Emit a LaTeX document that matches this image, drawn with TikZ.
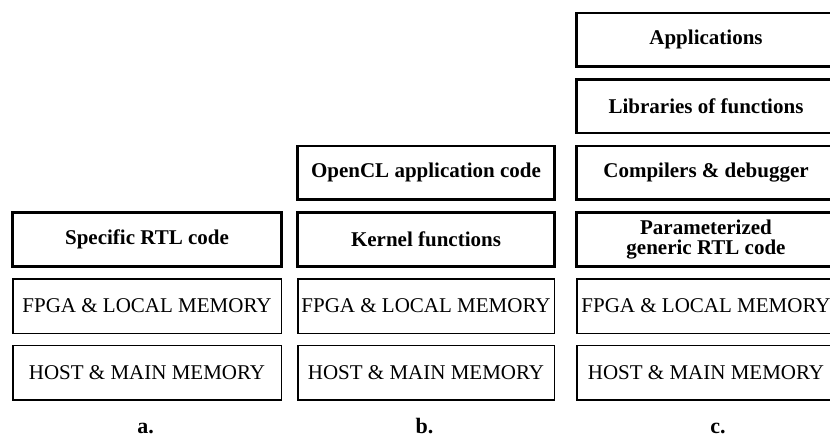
\documentclass[tikz,border=0pt]{standalone}
\usepackage{fontspec}
\setmainfont{Liberation Serif}
\usetikzlibrary{positioning}

\begin{document}
\begin{tikzpicture}
                [x=1pt,y=1pt,
                node distance=10.5pt,
                layer/.style={draw,line width=1.5pt,minimum height=54.5pt,inner sep=1pt,
                    font=\fontsize{21}{21}\selectfont},
                codelayer/.style={layer,line width=2.6pt,minimum height=53.5pt,align=center,
                    font=\fontsize{21}{19.5}\selectfont\bfseries},
                cola/.style={minimum width=268.5pt},
                colb/.style={minimum width=256.5pt},
                colc/.style={minimum width=258.5pt},
                caption/.style={font=\fontsize{22}{22}\selectfont\bfseries,inner sep=0pt,anchor=base}]
                \useasboundingbox (0,0) rectangle (830,437);
                \node[layer,cola] (hostA) at (147,64.5) {HOST \& MAIN MEMORY};
                \node[layer,cola,above=of hostA] (fpgaA) {FPGA \& LOCAL MEMORY};
                \node[codelayer,cola,above=of fpgaA] (rtlA) {Specific RTL code};
                \node[layer,colb] (hostB) at (426,64.5) {HOST \& MAIN MEMORY};
                \node[layer,colb,above=of hostB] (fpgaB) {FPGA \& LOCAL MEMORY};
                \node[codelayer,colb,above=of fpgaB] (kernelB) {Kernel functions};
                \node[codelayer,colb,above=of kernelB] (openclB) {OpenCL application code};
                \node[layer,colc] (hostC) at (706,64.5) {HOST \& MAIN MEMORY};
                \node[layer,colc,above=of hostC] (fpgaC) {FPGA \& LOCAL MEMORY};
                \node[codelayer,colc,above=of fpgaC] (rtlC) {Parameterized\\generic RTL code};
                \node[codelayer,colc,above=of rtlC] (compC) {Compilers \& debugger};
                \node[codelayer,colc,above=of compC] (libC) {Libraries of functions};
                \node[codelayer,colc,above=of libC] (appC) {Applications};
                \node[caption] (capA) at (145.5,4) {a.};
                \node[caption] (capB) at (424.5,4) {b.};
                \node[caption] (capC) at (718,4) {c.};
\end{tikzpicture}
\end{document}
